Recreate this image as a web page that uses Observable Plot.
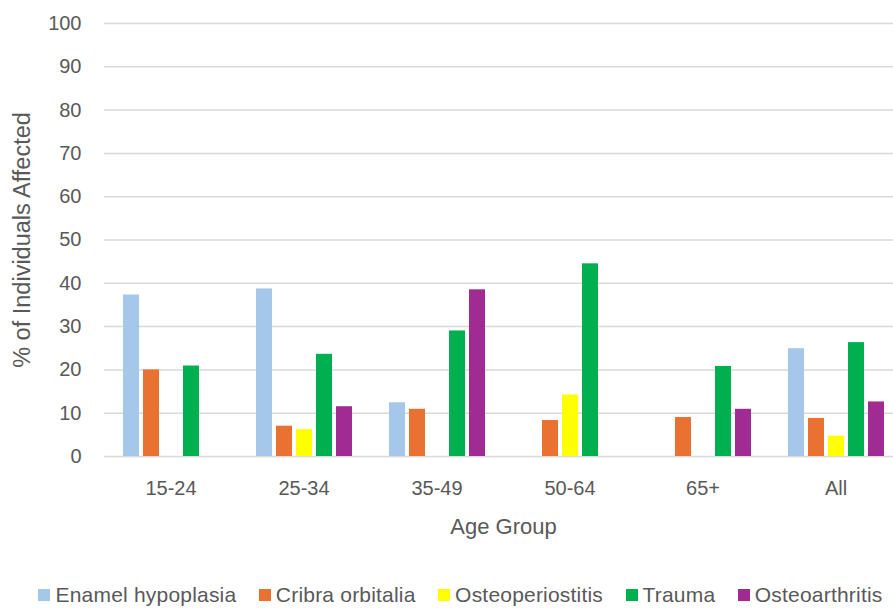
<!DOCTYPE html>
<html>
<head>
<meta charset="utf-8">
<script src="https://cdn.jsdelivr.net/npm/d3@7"></script>
<script src="https://cdn.jsdelivr.net/npm/@observablehq/plot@0.6"></script>
<style>
  html, body { margin: 0; padding: 0; background: #fff; }
  #chart { width: 893px; font-family: "Liberation Sans", Arial, sans-serif; }
  #chart svg { display: block; overflow: hidden; }
  #chart g[aria-label="y-axis label"] text { font-size: 23.5px; }
  #chart g[aria-label="fx-axis label"] text { font-size: 22px; }
  .legend { display: flex; justify-content: center; align-items: center; gap: 22.5px;
            height: 26px; padding-left: 28px; font-size: 21px; color: #595959; letter-spacing: 0.2px; }
  .legend .item { display: flex; align-items: center; white-space: nowrap; }
  .legend .sw { width: 12px; height: 12px; margin-right: 5px; display: inline-block; }
</style>
</head>
<body>
<div id="chart"></div>
<script>
// Age groups along the x axis
const ageGroups = ["15-24", "25-34", "35-49", "50-64", "65+", "All"];
// Conditions, one bar each within an age group
const conditions = ["Enamel hypoplasia", "Cribra orbitalia", "Osteoperiostitis", "Trauma", "Osteoarthritis"];
const conditionColors = ["#a5c8ea", "#e97132", "#ffff00", "#00b050", "#a02b93"];

// % of individuals affected, per age group (null = not observed)
const enamelHypoplasia = [37.3, 38.7, 12.4, null, null, 24.9];
const cribraOrbitalia  = [20.0, 7.0, 10.9, 8.3, 9.0, 8.8];
const osteoperiostitis = [null, 6.2, null, 14.2, null, 4.7];
const trauma           = [20.9, 23.6, 29.0, 44.5, 20.8, 26.3];
const osteoarthritis   = [null, 11.5, 38.5, null, 10.9, 12.6];

const yTicks = [0, 10, 20, 30, 40, 50, 60, 70, 80, 90, 100];

const seriesValues = [enamelHypoplasia, cribraOrbitalia, osteoperiostitis, trauma, osteoarthritis];
const rows = [];
conditions.forEach((name, i) => {
  seriesValues[i].forEach((v, j) => {
    if (v != null) rows.push({age: ageGroups[j], condition: name, value: v});
  });
});

const chart = Plot.plot({
  width: 893,
  height: 582,
  marginLeft: 104,
  marginRight: -9,
  marginTop: 23,
  marginBottom: 126,
  style: {fontFamily: "Liberation Sans, Arial, sans-serif", fontSize: "20px", color: "#595959", background: "#fff"},
  fx: {domain: ageGroups, padding: 0},
  x: {domain: conditions, paddingInner: 0.22, paddingOuter: 0.87, axis: null},
  y: {domain: [0, 100]},
  color: {domain: conditions, range: conditionColors},
  marks: [
    Plot.gridY(yTicks, {stroke: "#d9d9d9", strokeOpacity: 1, strokeWidth: 1.5}),
    Plot.barY(rows, {fx: "age", x: "condition", y: "value", fill: "condition"}),
    Plot.axisY({ticks: yTicks, tickSize: 0, tickPadding: 23, fontSize: 20,
      label: "% of Individuals Affected", labelAnchor: "center", labelArrow: "none", labelOffset: 91}),
    Plot.axisFx({anchor: "bottom", tickSize: 0, tickPadding: 24, fontSize: 20,
      label: "Age Group", labelAnchor: "center", labelArrow: "none", labelOffset: 77})
  ]
});

const root = document.getElementById("chart");
root.appendChild(chart);

// Legend below the plot
const legend = document.createElement("div");
legend.className = "legend";
conditions.forEach((name, i) => {
  const item = document.createElement("span");
  item.className = "item";
  const sw = document.createElement("span");
  sw.className = "sw";
  sw.style.background = conditionColors[i];
  item.appendChild(sw);
  item.appendChild(document.createTextNode(name));
  legend.appendChild(item);
});
root.appendChild(legend);
</script>
</body>
</html>
